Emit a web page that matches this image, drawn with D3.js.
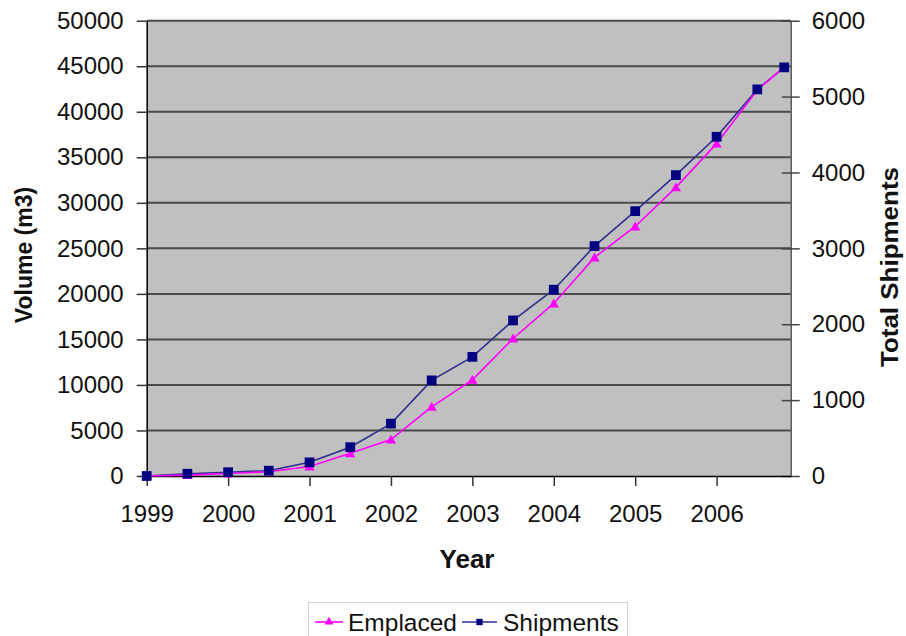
<!DOCTYPE html>
<html>
<head>
<meta charset="utf-8">
<script src="https://cdn.jsdelivr.net/npm/d3@7"></script>
<style>
  html, body { margin: 0; padding: 0; background: #fff; }
  svg { display: block; font-family: "Liberation Sans", Arial, sans-serif; }
</style>
</head>
<body>
<svg id="chart" width="906" height="636"></svg>
<script>
// Survey dates (decimal years, half-yearly readings)
const dates = [1999, 1999.5, 2000, 2000.5, 2001, 2001.5, 2002, 2002.5, 2003, 2003.5,
               2004, 2004.5, 2005, 2005.5, 2006, 2006.5, 2006.83];
// Cumulative volume emplaced (m3) - left axis
const emplaced = [0, 100, 280, 470, 1050, 2500, 4000, 7600, 10550, 15100,
                  18950, 24000, 27400, 31700, 36500, 42400, 44900];
// Cumulative number of shipments - right axis
const shipments = [0, 30, 50, 70, 180, 380, 690, 1260, 1570, 2050,
                   2455, 3030, 3490, 3965, 4470, 5095, 5385];

const yearTicks = [1999, 2000, 2001, 2002, 2003, 2004, 2005, 2006];
const volumeTicks = [0, 5000, 10000, 15000, 20000, 25000, 30000, 35000, 40000, 45000, 50000];
const shipmentTicks = [0, 1000, 2000, 3000, 4000, 5000, 6000];

const seriesNames = ["Emplaced", "Shipments"];

const svg = d3.select("#chart");
const plot = { left: 146.7, right: 790.7, top: 20.7, bottom: 476 };

const x = d3.scaleLinear().domain([1999, 2006.91]).range([plot.left, plot.right]);
const yL = d3.scaleLinear().domain([0, 50000]).range([plot.bottom, plot.top]);
const yR = d3.scaleLinear().domain([0, 6000]).range([plot.bottom, plot.top]);
const plain = d3.format("d");

// plot area background
svg.append("rect")
  .attr("x", plot.left).attr("y", plot.top)
  .attr("width", plot.right - plot.left).attr("height", plot.bottom - plot.top)
  .attr("fill", "#c0c0c0");

// horizontal gridlines
svg.append("g").selectAll("line")
  .data(volumeTicks.filter(d => d > 0))
  .join("line")
  .attr("x1", plot.left).attr("x2", plot.right)
  .attr("y1", d => yL(d)).attr("y2", d => yL(d))
  .attr("stroke", "#4a4a4a").attr("stroke-width", 2);

// left axis
const leftAxis = svg.append("g")
  .attr("transform", `translate(${plot.left},0)`)
  .call(d3.axisLeft(yL).tickValues(volumeTicks).tickFormat(plain)
    .tickSize(10).tickPadding(13).tickSizeOuter(0));
leftAxis.select(".domain").attr("stroke", "#000").attr("stroke-width", 1.5);
leftAxis.selectAll(".tick line").attr("stroke", "#333").attr("stroke-width", 1.5);
leftAxis.selectAll("text").attr("font-size", 24).attr("fill", "#111");

// right axis
const rightAxis = svg.append("g")
  .attr("transform", `translate(${plot.right},0)`)
  .call(d3.axisRight(yR).tickValues(shipmentTicks).tickFormat(plain)
    .tickSize(9).tickPadding(12).tickSizeOuter(0));
rightAxis.select(".domain").attr("stroke", "#555").attr("stroke-width", 1.5);
rightAxis.selectAll(".tick line").attr("stroke", "#444").attr("stroke-width", 1.5)
  .attr("x1", -9);
rightAxis.selectAll("text").attr("font-size", 24).attr("fill", "#111");

// bottom axis
const bottomAxis = svg.append("g")
  .attr("transform", `translate(0,${plot.bottom})`)
  .call(d3.axisBottom(x).tickValues(yearTicks).tickFormat(plain)
    .tickSize(10).tickPadding(19).tickSizeOuter(0));
bottomAxis.select(".domain").attr("stroke", "#000").attr("stroke-width", 1.5);
bottomAxis.selectAll(".tick line").attr("stroke", "#333").attr("stroke-width", 1.5);
bottomAxis.selectAll("text").attr("font-size", 24).attr("fill", "#111");

// axis titles
svg.append("text")
  .attr("transform", "translate(32,255) rotate(-90)")
  .attr("text-anchor", "middle")
  .attr("font-size", 23).attr("font-weight", "bold").attr("fill", "#111")
  .text("Volume (m3)");
svg.append("text")
  .attr("transform", "translate(898,267) rotate(-90)")
  .attr("text-anchor", "middle")
  .attr("font-size", 23).attr("font-weight", "bold").attr("fill", "#111")
  .attr("textLength", 200).attr("lengthAdjust", "spacingAndGlyphs")
  .text("Total Shipments");
svg.append("text")
  .attr("x", 467).attr("y", 568)
  .attr("text-anchor", "middle")
  .attr("font-size", 26).attr("font-weight", "bold").attr("fill", "#111")
  .text("Year");

const emplacedColor = "#ff00ff";
const shipColor = "#000080";
const shipLine = "#2e2e90";

const triangle = d3.symbol().type(d3.symbolTriangle).size(45);
const square = d3.symbol().type(d3.symbolSquare).size(95);

// Shipments series (right axis)
const shipPts = dates.map((d, i) => [x(d), yR(shipments[i])]);
svg.append("path")
  .attr("d", d3.line()(shipPts))
  .attr("fill", "none").attr("stroke", shipLine).attr("stroke-width", 1.6);

// Emplaced series (left axis)
const empPts = dates.map((d, i) => [x(d), yL(emplaced[i])]);
svg.append("path")
  .attr("d", d3.line()(empPts))
  .attr("fill", "none").attr("stroke", emplacedColor).attr("stroke-width", 1.6);

svg.append("g").selectAll("path")
  .data(empPts).join("path")
  .attr("transform", d => `translate(${d[0]},${d[1] + 1})`)
  .attr("d", triangle).attr("fill", emplacedColor);

svg.append("g").selectAll("path")
  .data(shipPts).join("path")
  .attr("transform", d => `translate(${d[0]},${d[1]})`)
  .attr("d", square).attr("fill", shipColor);

// legend
const legend = svg.append("g");
legend.append("rect")
  .attr("x", 308.5).attr("y", 602.5).attr("width", 319).attr("height", 45)
  .attr("fill", "#fff").attr("stroke", "#d0d0d0");

const legendItems = [
  { name: seriesNames[0], color: emplacedColor, line: emplacedColor,
    sym: d3.symbol().type(d3.symbolTriangle).size(35), x0: 315, x1: 343, tx: 348 },
  { name: seriesNames[1], color: shipColor, line: shipLine,
    sym: d3.symbol().type(d3.symbolSquare).size(40), x0: 462, x1: 497, tx: 503 }
];
legendItems.forEach(it => {
  legend.append("line")
    .attr("x1", it.x0).attr("x2", it.x1).attr("y1", 622).attr("y2", 622)
    .attr("stroke", it.line).attr("stroke-width", 1.6);
  legend.append("path")
    .attr("transform", `translate(${(it.x0 + it.x1) / 2},622)`)
    .attr("d", it.sym)
    .attr("fill", it.color);
  legend.append("text")
    .attr("x", it.tx).attr("y", 631)
    .attr("font-size", 24.5).attr("fill", "#111")
    .text(it.name);
});
</script>
</body>
</html>
